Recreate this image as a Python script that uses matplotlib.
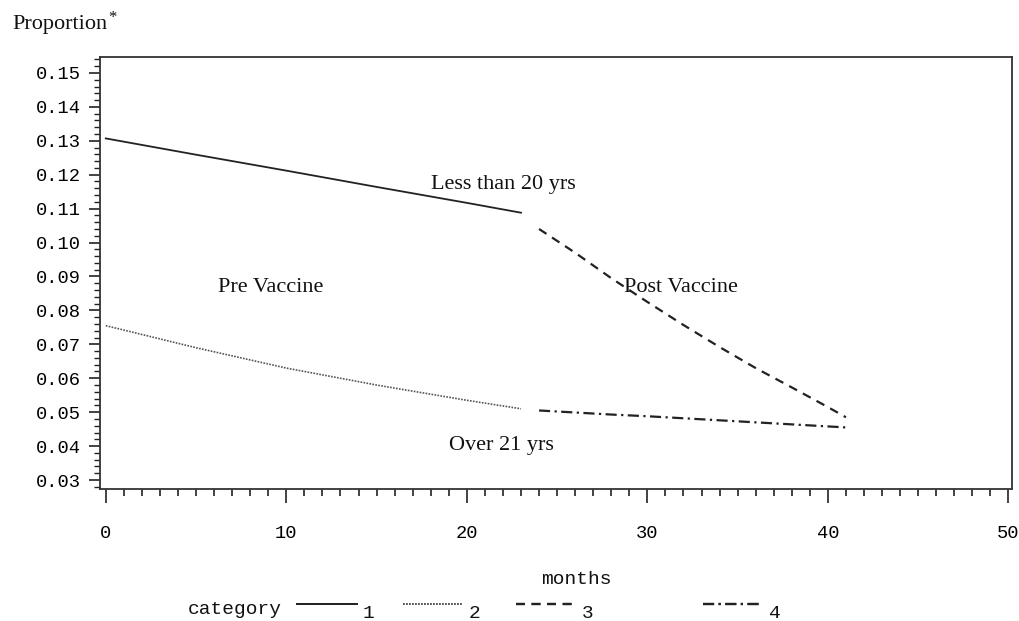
import matplotlib
matplotlib.use('Agg')
import matplotlib.pyplot as plt
from matplotlib.ticker import MultipleLocator, FormatStrFormatter

# values
pre_months = [0, 5, 10, 15, 20, 23]
less20_pre = [0.1307, 0.1259, 0.1212, 0.1164, 0.1117, 0.1088]
over21_pre = [0.0755, 0.0690, 0.0630, 0.0580, 0.0535, 0.0510]
post_months = [24, 26, 28, 30, 32, 34, 36, 38, 40, 41]
less20_post = [0.1040, 0.0970, 0.0895, 0.0825, 0.0757, 0.0692, 0.0630, 0.0573, 0.0515, 0.0485]
over21_post = [0.0505, 0.0499, 0.0493, 0.0488, 0.0482, 0.0476, 0.0470, 0.0464, 0.0458, 0.0455]
categories = ['1', '2', '3', '4']

mono = 'Liberation Mono'
serif = 'Liberation Serif'
ink = '#222222'

fig = plt.figure(figsize=(10.2, 6.21), dpi=100)
ax = fig.add_axes([100/1020, 1 - 489/621, 912/1020, 432/621])

l1, = ax.plot(pre_months, less20_pre, color=ink, lw=1.3, linestyle='-')
l2, = ax.plot(pre_months, over21_pre, color='#555555', lw=1.2, linestyle=(0, (1, 0.8)))
l3, = ax.plot(post_months, less20_post, color=ink, lw=1.6, linestyle=(0, (4, 3)))
l4, = ax.plot(post_months, over21_post, color=ink, lw=1.6, linestyle=(0, (5, 2, 1, 2)))

ax.set_xlim(-0.32, 50.2)
ax.set_ylim(0.02735, 0.1547)

ax.xaxis.set_major_locator(MultipleLocator(10))
ax.xaxis.set_minor_locator(MultipleLocator(1))
ax.yaxis.set_major_locator(MultipleLocator(0.01))
ax.yaxis.set_minor_locator(MultipleLocator(0.002))
ax.yaxis.set_major_formatter(FormatStrFormatter('%.2f'))

ax.tick_params(axis='x', which='major', direction='out', length=10, width=1.2,
               color=ink, pad=16, labelsize=13.5)
ax.tick_params(axis='x', which='minor', direction='out', length=5, width=1.2, color=ink)
ax.tick_params(axis='y', which='major', direction='out', length=8, width=1.2,
               color=ink, pad=6, labelsize=13.5)
ax.tick_params(axis='y', which='minor', direction='out', length=4, width=1.0, color=ink)
for lab in ax.get_xticklabels() + ax.get_yticklabels():
    lab.set_fontfamily(mono)

for s in ax.spines.values():
    s.set_color('#333333')
    s.set_linewidth(1.3)

# in-plot labels
txt = dict(fontfamily=serif, fontsize=16, color='#111111', va='center', ha='left')
ax.text(18.0, 0.1172, 'Less than 20 yrs', **txt)
ax.text(6.2, 0.0867, 'Pre Vaccine', **txt)
ax.text(28.7, 0.0867, 'Post Vaccine', **txt)
ax.text(19.0, 0.0402, 'Over 21 yrs', **txt)

# y label at top left
t = fig.text(12/1020, 1 - 25/621, 'Proportion', fontfamily=serif, fontsize=16,
             va='center', ha='left', color='#111111')
ax.annotate('*', xy=(1.0, 1.0), xycoords=t, xytext=(1, -2), textcoords='offset points',
            fontfamily=serif, fontsize=12, va='center', ha='left', color='#111111')

fig.text(576/1020, 1 - 579/621, 'months', fontfamily=mono, fontsize=14,
         ha='center', va='center', color='#111111')

# legend row: SAS spaces the entries unevenly, so one small legend per entry
fig.text(188/1020, 1 - 609/621, 'category', fontfamily=mono, fontsize=14,
         ha='left', va='center', color='#111111')
handle_x = [297, 403, 516, 703]
for h, name, x0 in zip([l1, l2, l3, l4], categories, handle_x):
    lg = fig.legend([h], [''], frameon=False, loc='center left',
                    bbox_to_anchor=(x0/1020, 1 - 606/621),
                    prop={'family': mono, 'size': 14}, handlelength=3.1,
                    handletextpad=0, borderaxespad=0, borderpad=0)
    fig.add_artist(lg)
    fig.text((x0 + 66)/1020, 1 - 613/621, name, fontfamily=mono, fontsize=14,
             ha='left', va='center', color='#111111')

fig.savefig('out.png', dpi=100)
